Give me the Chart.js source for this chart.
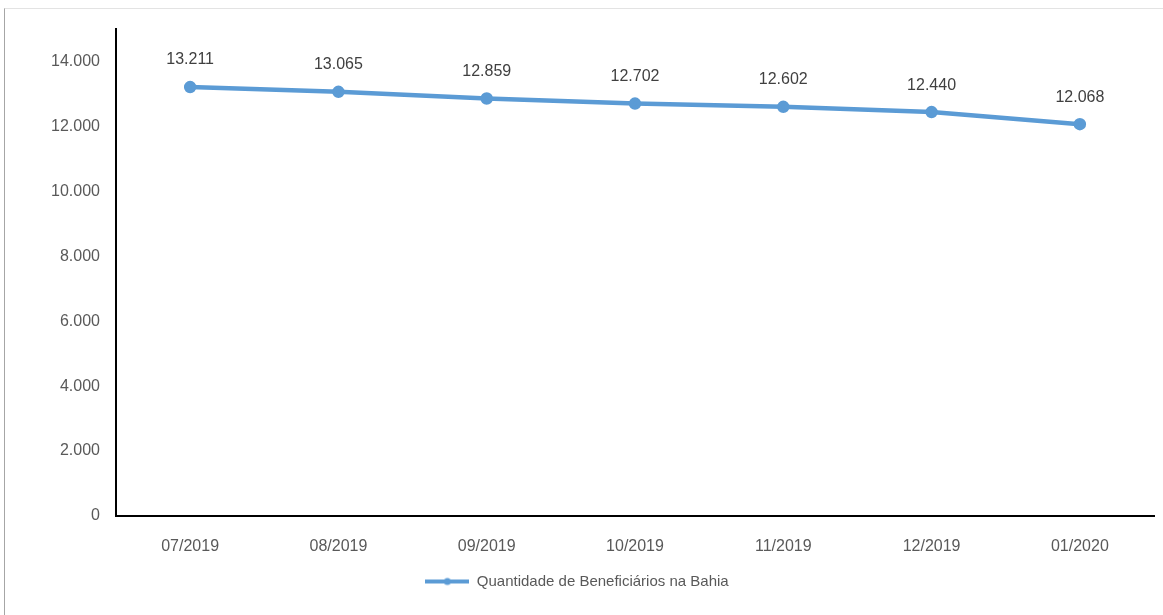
<!DOCTYPE html>
<html>
<head>
<meta charset="utf-8">
<script src="https://cdn.jsdelivr.net/npm/chart.js@4.4.1/dist/chart.umd.min.js"></script>
<style>
    html, body { margin: 0; padding: 0; background: #fff; }
    #wrap { position: relative; width: 1163px; height: 615px; }
    #frame { position: absolute; left: 4px; top: 8px; right: 0; bottom: 0; border-left: 1px solid #a6a6a6; border-top: 1px solid #e3e3e3; }
    canvas { position: absolute; left: 0; top: 0; }
</style>
</head>
<body>
<div id="wrap">
    <div id="frame"></div>
    <canvas id="chart" width="1163" height="615"></canvas>
</div>
<script>
// Chart data
const months = ['07/2019', '08/2019', '09/2019', '10/2019', '11/2019', '12/2019', '01/2020'];
const beneficiarios = [13211, 13065, 12859, 12702, 12602, 12440, 12068];
const yTicks = [0, 2000, 4000, 6000, 8000, 10000, 12000, 14000];

const seriesName = 'Quantidade de Beneficiários na Bahia';
const blue = '#5B9BD5';
const fontFamily = "'Liberation Sans Narrow', 'Liberation Sans', sans-serif";

// thousands separator with a dot
function fmt(n) {
    return String(n).replace(/\B(?=(\d{3})+(?!\d))/g, '.');
}

// legend marker: line with a dot in the middle
function legendMarker() {
    const c = document.createElement('canvas');
    c.width = 44;
    c.height = 10;
    const ctx = c.getContext('2d');
    ctx.strokeStyle = blue;
    ctx.lineWidth = 4;
    ctx.beginPath();
    ctx.moveTo(0, 5);
    ctx.lineTo(44, 5);
    ctx.stroke();
    ctx.fillStyle = blue;
    ctx.beginPath();
    ctx.arc(22, 5, 3.5, 0, Math.PI * 2);
    ctx.fill();
    return c;
}

// labels above each point
const dataLabels = {
    id: 'dataLabels',
    afterDatasetsDraw(chart) {
        const ctx = chart.ctx;
        const meta = chart.getDatasetMeta(0);
        ctx.save();
        ctx.font = '16px ' + fontFamily;
        ctx.fillStyle = '#404040';
        ctx.textAlign = 'center';
        ctx.textBaseline = 'middle';
        meta.data.forEach((pt, i) => {
            ctx.fillText(fmt(beneficiarios[i]), pt.x, pt.y - 27);
        });
        ctx.restore();
    }
};

const ctx = document.getElementById('chart').getContext('2d');

new Chart(ctx, {
    type: 'line',
    data: {
        labels: months,
        datasets: [{
            label: seriesName,
            data: beneficiarios,
            borderColor: blue,
            backgroundColor: blue,
            borderWidth: 4.5,
            pointRadius: 4,
            pointBackgroundColor: blue,
            pointBorderColor: blue,
            tension: 0,
            fill: false
        }]
    },
    options: {
        responsive: false,
        animation: false,
        layout: {
            padding: { top: 29, right: 9, bottom: 16, left: 0 }
        },
        scales: {
            x: {
                offset: true,
                grid: { display: false, offset: true },
                border: { color: '#000', width: 2 },
                ticks: {
                    color: '#595959',
                    padding: 13,
                    maxRotation: 0,
                    font: { family: fontFamily, size: 16 }
                },
                afterFit: function(scale) {
                    scale.height = 48;
                }
            },
            y: {
                min: 0,
                max: 15000,
                grid: { display: false },
                border: { color: '#000', width: 2 },
                afterBuildTicks: function(scale) {
                    scale.ticks = yTicks.map(v => ({ value: v }));
                },
                ticks: {
                    color: '#595959',
                    padding: 8,
                    font: { family: fontFamily, size: 16 },
                    callback: function(value) {
                        return fmt(value);
                    }
                },
                afterFit: function(scale) {
                    scale.width = 116;
                }
            }
        },
        plugins: {
            legend: {
                position: 'bottom',
                labels: {
                    color: '#595959',
                    usePointStyle: true,
                    pointStyle: legendMarker(),
                    pointStyleWidth: 44,
                    boxHeight: 10,
                    padding: 10,
                    font: { family: fontFamily, size: 15 }
                }
            },
            tooltip: { enabled: false }
        }
    },
    plugins: [dataLabels]
});
</script>
</body>
</html>
